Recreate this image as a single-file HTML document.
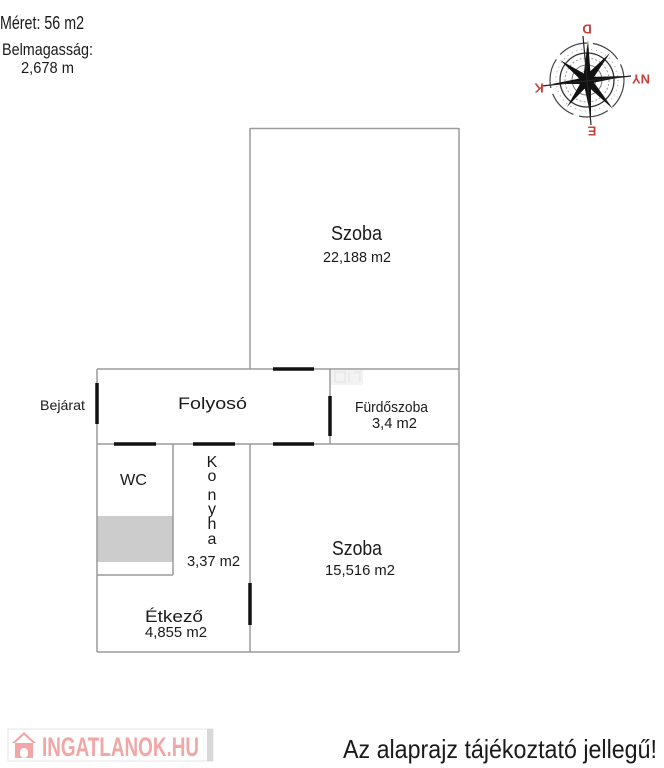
<!DOCTYPE html>
<html>
<head>
<meta charset="utf-8">
<style>
  html,body{margin:0;padding:0;background:#fff;}
  svg{display:block;}
  text{font-family:"Liberation Sans",sans-serif;fill:#1a1a1a;}
</style>
</head>
<body>
<svg width="664" height="768" viewBox="0 0 664 768" xmlns="http://www.w3.org/2000/svg">
  <rect x="0" y="0" width="664" height="768" fill="#fff"/>

  <!-- top-left info -->
  <text x="0" y="29" font-size="18" textLength="84" lengthAdjust="spacingAndGlyphs">Méret: 56 m2</text>
  <text x="2" y="55" font-size="17" textLength="91" lengthAdjust="spacingAndGlyphs">Belmagasság:</text>
  <text x="21" y="73" font-size="16" textLength="53" lengthAdjust="spacingAndGlyphs">2,678 m</text>

  <!-- compass -->
  <g transform="translate(587,80)">
    <circle r="37" fill="none" stroke="#444" stroke-width="1.2" stroke-dasharray="30 6"/>
    <circle r="27" fill="none" stroke="#333" stroke-width="1.3"/>
    <circle r="22" fill="none" stroke="#999" stroke-width="1" stroke-dasharray="2 2"/>
    <circle r="15" fill="none" stroke="#777" stroke-width="1"/>
    <circle r="9" fill="none" stroke="#999" stroke-width="0.8"/>
    <circle r="31" fill="none" stroke="#999" stroke-width="0.9" stroke-dasharray="1 4"/>
    <!-- main points -->
    <polygon points="1,-40 4,0 -4,0" fill="#111"/>
    <polygon points="4,38 4,0 -4,0" fill="#111"/>
    <polygon points="-35,4 0,-3 0,4" fill="#111"/>
    <polygon points="40,-4 0,-3 0,4" fill="#111"/>
    <!-- diagonals -->
    <polygon points="-27,-20 3,-3 -3,3" fill="#111"/>
    <polygon points="26,29 3,-3 -3,3" fill="#111"/>
    <polygon points="23,-27 -3,-3 3,3" fill="#111"/>
    <polygon points="-20,27 -3,-3 3,3" fill="#111"/>
    <line x1="-4" y1="-44" x2="4" y2="45" stroke="#222" stroke-width="1.2"/>
    <line x1="-45" y1="6" x2="44" y2="-4" stroke="#222" stroke-width="1.2"/>
  </g>
  <g font-weight="bold" font-size="13">
    <text x="0" y="0" transform="translate(587,28) rotate(180)" text-anchor="middle" dominant-baseline="middle" style="fill:#c8413b">D</text>
    <text x="0" y="0" transform="translate(641,78) rotate(180)" text-anchor="middle" dominant-baseline="middle" style="fill:#c8413b">NY</text>
    <text x="0" y="0" transform="translate(539,87) rotate(180)" text-anchor="middle" dominant-baseline="middle" style="fill:#c8413b">K</text>
    <text x="0" y="0" transform="translate(592,130) rotate(180)" text-anchor="middle" dominant-baseline="middle" style="fill:#c8413b">E</text>
  </g>

  <!-- WC grey fill -->
  <rect x="97" y="516" width="76" height="46" fill="#cccccc"/>

  <!-- faint watermark -->
  <g opacity="0.35">
    <rect x="331" y="370" width="32" height="15" fill="#ddd"/>
    <path d="M335 372 h10 v10 h-10z M349 372 v10 M354 372 h6 v10" fill="none" stroke="#bbb" stroke-width="1.5"/>
  </g>

  <!-- walls -->
  <g stroke="#9a9a9a" stroke-width="1.5" fill="none">
    <line x1="250" y1="128.5" x2="459" y2="128.5"/>
    <line x1="250" y1="128" x2="250" y2="369"/>
    <line x1="459" y1="128" x2="459" y2="652"/>
    <line x1="97" y1="369" x2="459" y2="369"/>
    <line x1="97" y1="444" x2="459" y2="444"/>
    <line x1="97" y1="369" x2="97" y2="652"/>
    <line x1="97" y1="652" x2="459" y2="652"/>
    <line x1="250" y1="444" x2="250" y2="652"/>
    <line x1="330" y1="369" x2="330" y2="444"/>
    <line x1="173" y1="444" x2="173" y2="575"/>
    <line x1="97" y1="575" x2="173" y2="575"/>
  </g>

  <!-- doors -->
  <g stroke="#111" stroke-width="3.5">
    <line x1="97" y1="383" x2="97" y2="424"/>
    <line x1="114" y1="444" x2="156" y2="444"/>
    <line x1="193" y1="444" x2="235" y2="444"/>
    <line x1="273" y1="444" x2="314" y2="444"/>
    <line x1="273" y1="369" x2="314" y2="369"/>
    <line x1="330" y1="396" x2="330" y2="436"/>
    <line x1="250" y1="583" x2="250" y2="625"/>
  </g>

  <!-- labels -->
  <text x="331" y="240" font-size="20" textLength="51" lengthAdjust="spacingAndGlyphs">Szoba</text>
  <text x="323" y="262" font-size="14.5" textLength="68" lengthAdjust="spacingAndGlyphs">22,188 m2</text>

  <text x="178" y="409" font-size="17" textLength="69" lengthAdjust="spacingAndGlyphs">Folyosó</text>
  <text x="40" y="410" font-size="14" textLength="45" lengthAdjust="spacingAndGlyphs">Bejárat</text>
  <text x="355" y="412" font-size="15" textLength="73" lengthAdjust="spacingAndGlyphs">Fürdőszoba</text>
  <text x="372" y="428" font-size="14.5" textLength="45" lengthAdjust="spacingAndGlyphs">3,4 m2</text>

  <text x="120" y="485" font-size="16" textLength="27" lengthAdjust="spacingAndGlyphs">WC</text>

  <g font-size="16" text-anchor="middle">
    <text x="212" y="467">K</text>
    <text x="212" y="481">o</text>
    <text x="212" y="500">n</text>
    <text x="212" y="514">y</text>
    <text x="212" y="529">h</text>
    <text x="212" y="544">a</text>
  </g>
  <text x="187" y="566" font-size="15" textLength="53" lengthAdjust="spacingAndGlyphs">3,37 m2</text>

  <text x="145" y="622" font-size="17" textLength="58" lengthAdjust="spacingAndGlyphs">Étkező</text>
  <text x="145" y="637" font-size="14.5" textLength="62" lengthAdjust="spacingAndGlyphs">4,855 m2</text>

  <text x="332" y="555" font-size="20" textLength="50" lengthAdjust="spacingAndGlyphs">Szoba</text>
  <text x="325" y="575" font-size="14.5" textLength="70" lengthAdjust="spacingAndGlyphs">15,516 m2</text>

  <!-- logo -->
  <rect x="8" y="729" width="205" height="32" fill="#fff" stroke="#e4e4e4" stroke-width="1"/>
  <rect x="207" y="729" width="6" height="32" fill="#d8d8d8"/>
  <g fill="#f2a6a6">
    <polygon points="12,743 24,732 36,743 33,743 24,735 15,743"/>
    <rect x="15" y="743" width="18" height="15"/>
  </g>
  <rect x="20" y="748" width="8" height="10" rx="4" fill="#fff"/>
  <text x="42" y="756" font-size="27" font-weight="bold" textLength="157" lengthAdjust="spacingAndGlyphs" style="fill:#f2a6a6">INGATLANOK.HU</text>

  <!-- footer note -->
  <text x="343" y="758" font-size="26" textLength="314" lengthAdjust="spacingAndGlyphs">Az alaprajz tájékoztató jellegű!</text>
</svg>
</body>
</html>
